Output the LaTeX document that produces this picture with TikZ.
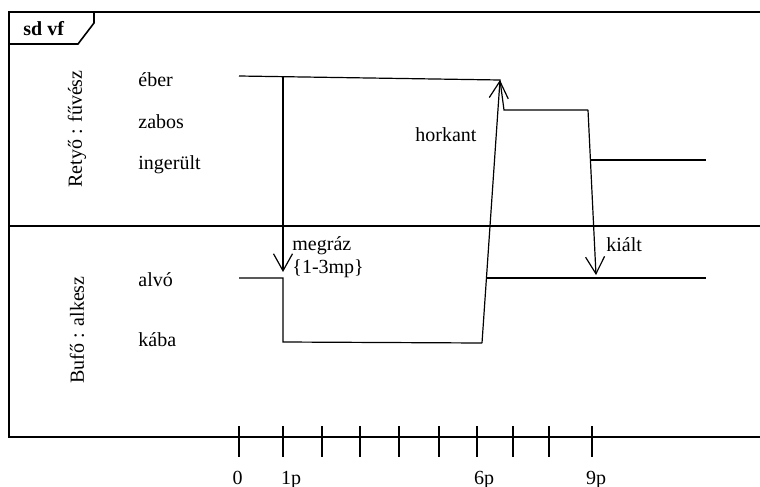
\documentclass[tikz,border=0pt]{standalone}
\usepackage{fontspec}
\setmainfont{Liberation Serif}
\usetikzlibrary{arrows.meta}
\begin{document}
\begin{tikzpicture}[x=0.5pt,y=-0.5pt,
  frame/.style={line width=0.8pt},
  sig/.style={line width=0.6pt},
  msg/.style={line width=0.6pt,-{Straight Barb[length=8.5pt,width=9.5pt,line width=0.6pt]}},
  lbl/.style={font=\fontsize{10}{12}\selectfont, inner sep=0pt},
  bold/.style={font=\fontsize{10}{12}\selectfont\bfseries, inner sep=0pt},
  tick/.style={line width=0.6pt}]
\useasboundingbox (0,0) rectangle (760,487);

% frame and tab
\draw[frame] (762,12) -- (9,12) -- (9,437) -- (762,437);
\draw[frame] (9,44) -- (78,44) -- (94,23) -- (94,12);
\node[bold, anchor=base west] (title) at (23,35) {sd vf};
\draw[sig] (9,226) -- (762,226);

% lifeline names
\node[lbl, rotate=90] (retyo) at (77,129) {Retyő : fűvész};
\node[lbl, rotate=90] (bufo) at (77,330) {Bufő : alkesz};

% state labels
\node[lbl, anchor=base west] (eber) at (138,86) {éber};
\node[lbl, anchor=base west] (zabos) at (138,128) {zabos};
\node[lbl, anchor=base west] (inger) at (138,169) {ingerült};
\node[lbl, anchor=base west] (alvo) at (138,286) {alvó};
\node[lbl, anchor=base west] (kaba) at (138,346) {kába};

% Retyő timeline points
\coordinate (r0) at (239,76);
\coordinate (rm) at (283,76.7);
\coordinate (r1) at (500,80);
\coordinate (r2) at (504,110);
\coordinate (r3) at (588,110);
\coordinate (r4) at (590.5,160);
\coordinate (r5) at (706,160);
% Bufő timeline points
\coordinate (b0) at (239,278);
\coordinate (b1) at (283,278);
\coordinate (bm) at (283,272);
\coordinate (b2) at (283,342);
\coordinate (b3) at (482,343);
\coordinate (b4) at (487,278);
\coordinate (b5) at (706,278);
\coordinate (bk) at (596,275);

\draw[sig] (r0) -- (r1) -- (r2) -- (r3);
\draw[sig] (r4) -- (r5);
\draw[sig] (b0) -- (b1) -- (b2) -- (b3);
\draw[sig] (b4) -- (b5);

% messages
\draw[msg] (rm) -- (bm);
\draw[msg] (b3) -- (r1);
\draw[msg] (r3) -- (bk);

\node[lbl, anchor=base west] (megraz) at (292,250) {megráz};
\node[lbl, anchor=base west] (dur) at (292,273) {\{1-3mp\}};
\node[lbl, anchor=base west] (horkant) at (415,141) {horkant};
\node[lbl, anchor=base west] (kialt) at (606,251) {kiált};

% time axis ticks
\foreach \x [count=\i] in {239,283,322,360,399,439,477,513,549,592} {
  \coordinate (t\i a) at (\x,426);
  \coordinate (t\i b) at (\x,457);
  \draw[tick] (t\i a) -- (t\i b);
}
\node[lbl, anchor=base] (l0) at (237.5,484) {0};
\node[lbl, anchor=base] (l1) at (291,484) {1p};
\node[lbl, anchor=base] (l6) at (484,484) {6p};
\node[lbl, anchor=base] (l9) at (596,484) {9p};
\end{tikzpicture}
\end{document}
